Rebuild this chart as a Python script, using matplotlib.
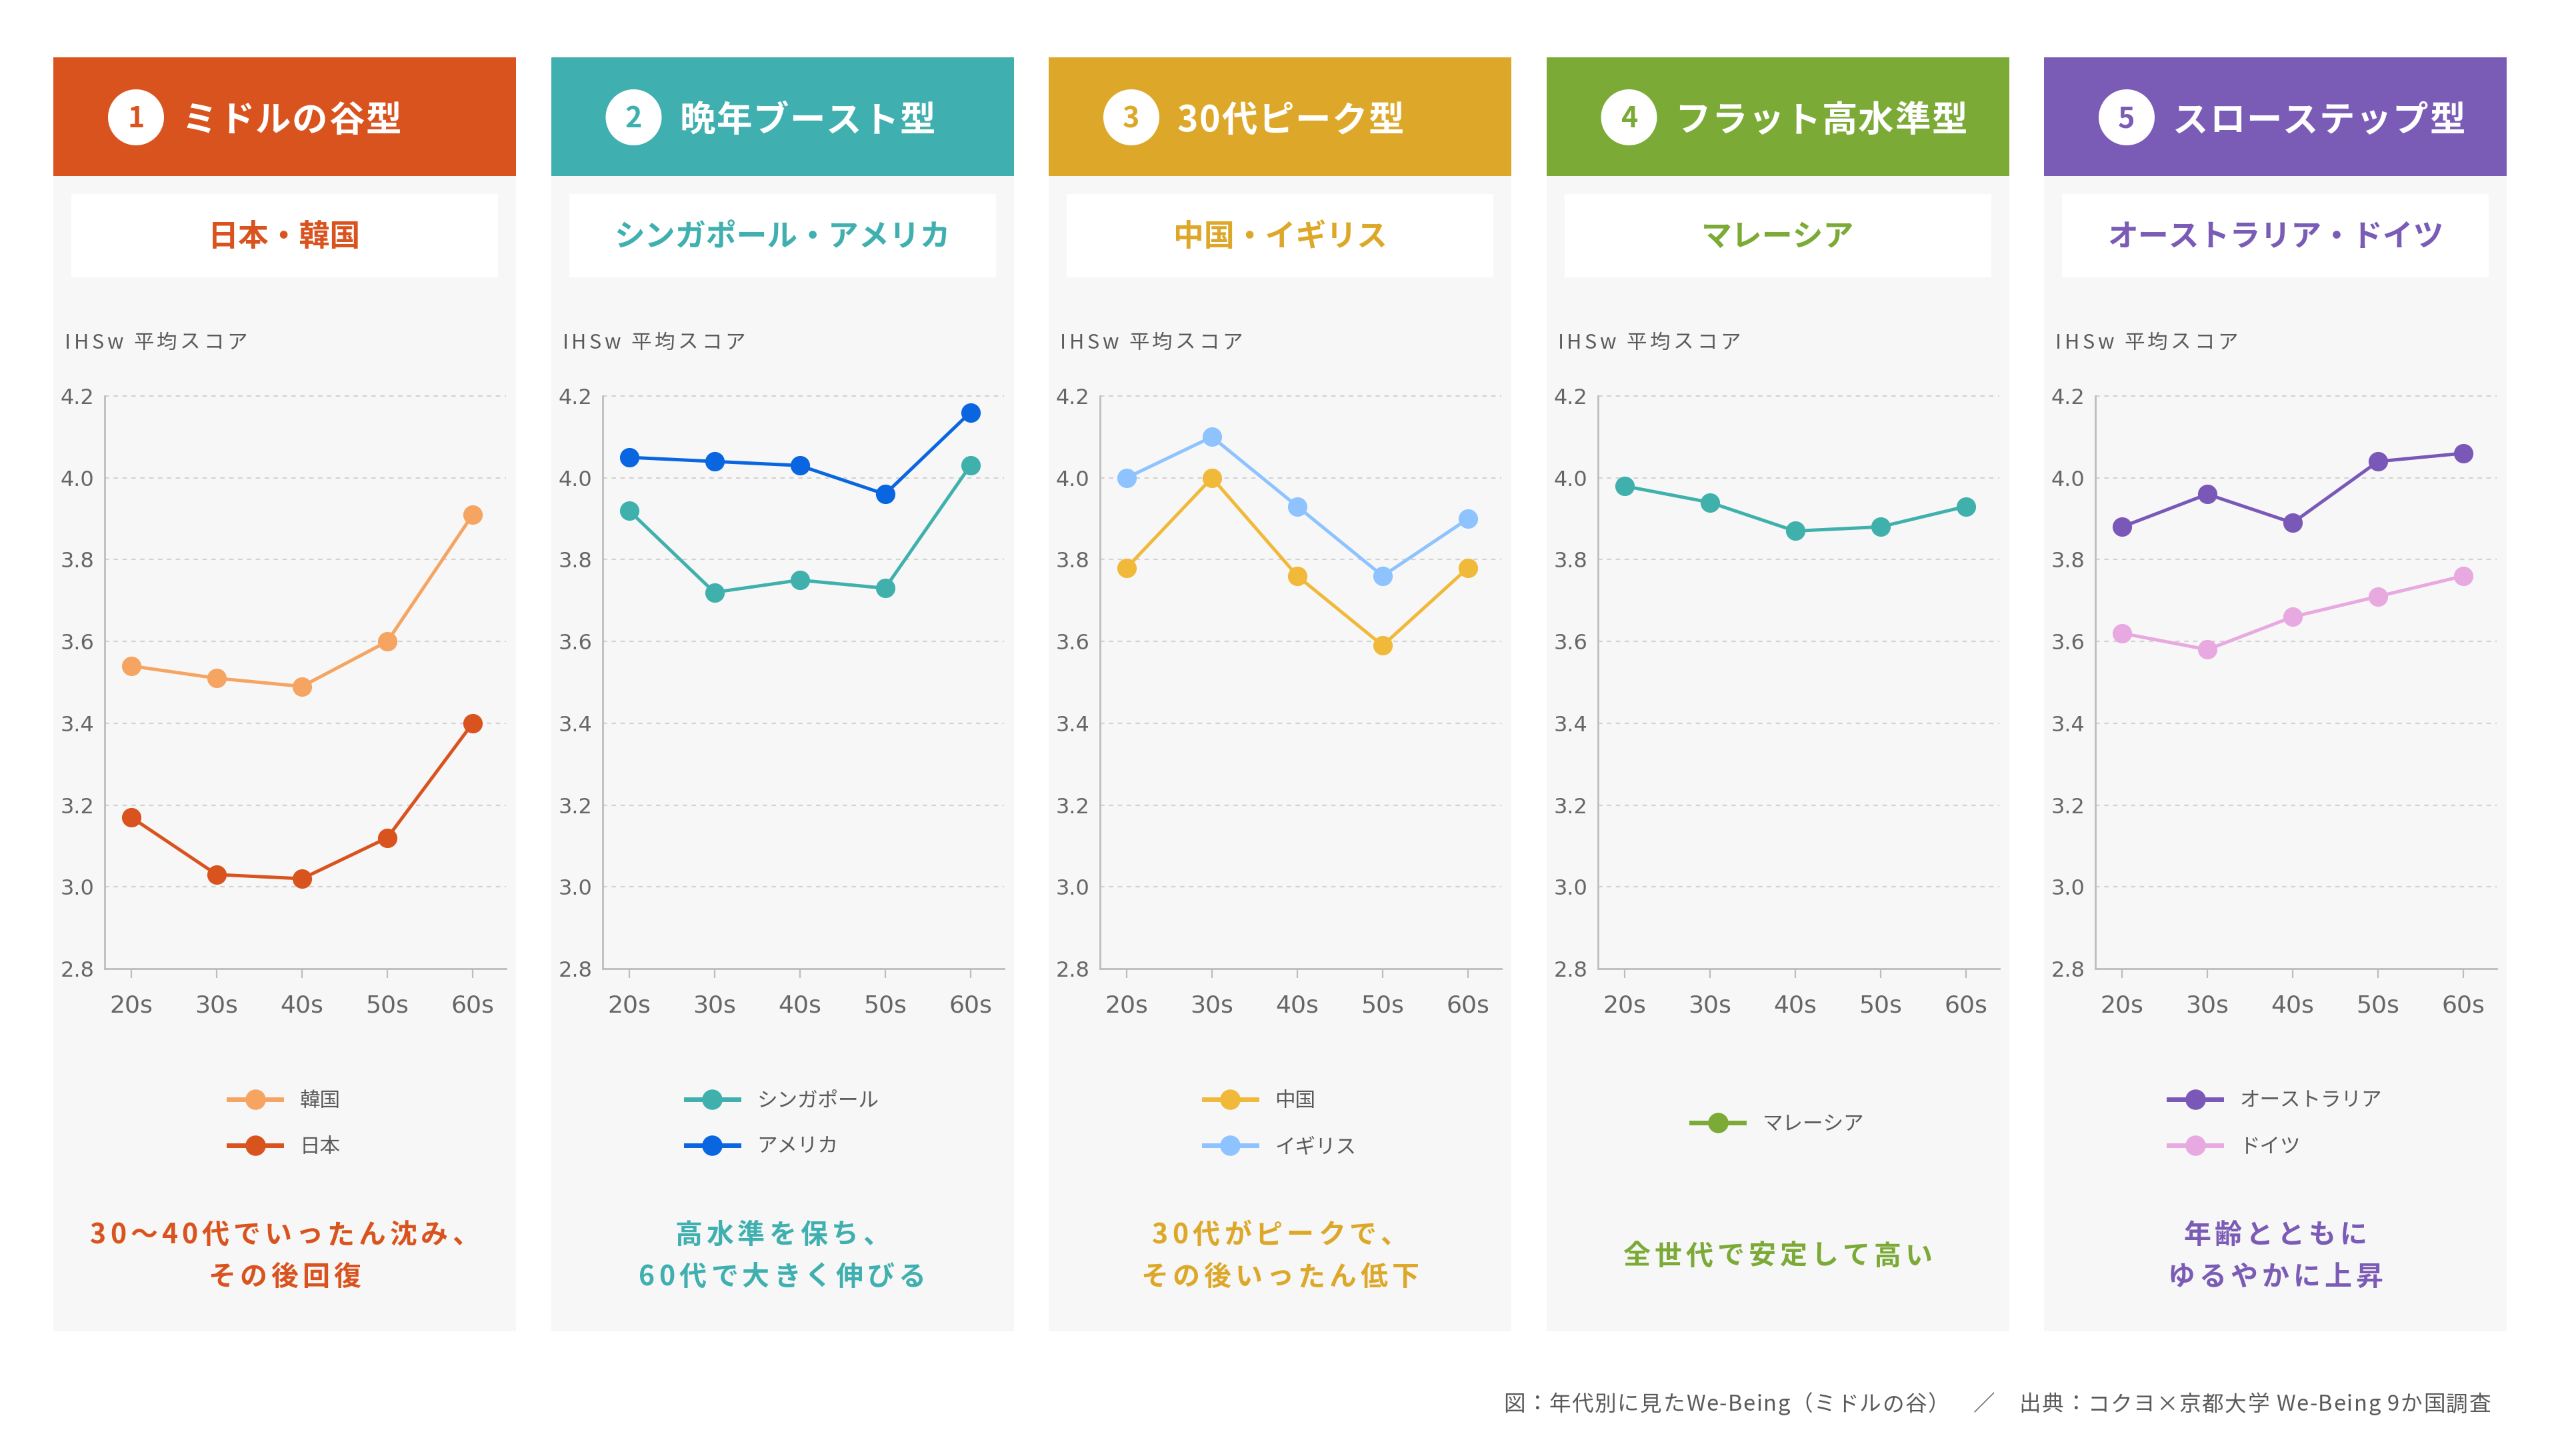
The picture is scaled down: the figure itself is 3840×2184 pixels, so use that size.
import matplotlib
matplotlib.use("Agg")
import matplotlib.pyplot as plt
from matplotlib.patches import Rectangle, Circle
from matplotlib.lines import Line2D
from matplotlib.font_manager import FontProperties, findfont, get_font

plt.rcParams['font.family'] = ['Noto Sans CJK JP', 'DejaVu Sans']

# ---------------- data ----------------
ages = ['20s', '30s', '40s', '50s', '60s']
yticks = [2.8, 3.0, 3.2, 3.4, 3.6, 3.8, 4.0, 4.2]

korea = [3.54, 3.51, 3.49, 3.60, 3.91]
japan = [3.17, 3.03, 3.02, 3.12, 3.40]
singapore = [3.92, 3.72, 3.75, 3.73, 4.03]
usa = [4.05, 4.04, 4.03, 3.96, 4.16]
china = [3.78, 4.00, 3.76, 3.59, 3.78]
uk = [4.00, 4.10, 3.93, 3.76, 3.90]
malaysia = [3.98, 3.94, 3.87, 3.88, 3.93]
australia = [3.88, 3.96, 3.89, 4.04, 4.06]
germany = [3.62, 3.58, 3.66, 3.71, 3.76]

titles = ['ミドルの谷型', '晩年ブースト型', '30代ピーク型', 'フラット高水準型', 'スローステップ型']
subtitles = ['日本・韓国', 'シンガポール・アメリカ', '中国・イギリス', 'マレーシア', 'オーストラリア・ドイツ']
descriptions = [['30〜40代でいったん沈み、', 'その後回復'],
                ['高水準を保ち、', '60代で大きく伸びる'],
                ['30代がピークで、', 'その後いったん低下'],
                ['全世代で安定して高い'],
                ['年齢とともに', 'ゆるやかに上昇']]
theme_colors = ['#D9531F', '#40AFB0', '#DDA829', '#7BAA37', '#7A5BB5']

# series per panel: (label, values, line color, legend color)
panels = [
    [('韓国', korea, '#F5A462', '#F5A462'), ('日本', japan, '#D9531F', '#D9531F')],
    [('シンガポール', singapore, '#40B0AD', '#40B0AD'), ('アメリカ', usa, '#0A66E0', '#0A66E0')],
    [('中国', china, '#F0B93A', '#F0B93A'), ('イギリス', uk, '#8EC3FF', '#8EC3FF')],
    [('マレーシア', malaysia, '#40B0AD', '#7BAA37')],
    [('オーストラリア', australia, '#7A58B8', '#7A58B8'), ('ドイツ', germany, '#E8A8E0', '#E8A8E0')],
]
ylabel = 'IHSw 平均スコア'
footer = '図：年代別に見たWe-Being（ミドルの谷）　／　出典：コクヨ×京都大学 We-Being 9か国調査'

# ---------------- layout ----------------
W, H = 3840, 2184
DPI = 100
fig = plt.figure(figsize=(W / DPI, H / DPI), dpi=DPI, facecolor='white')
bg = fig.add_axes([0, 0, 1, 1])
bg.set_xlim(0, W)
bg.set_ylim(H, 0)
bg.axis('off')


def tracked(s, x, yc, size, tracking, ha='center', weight='normal', color='k'):
    """Draw text with letter spacing in pixel coords of bg axes."""
    prop = FontProperties(family='Noto Sans CJK JP', weight=weight, size=size)
    font = get_font(findfont(prop))
    font.set_size(size, DPI)
    advs = [font.load_char(ord(ch)).linearHoriAdvance / 65536 for ch in s]
    total = sum(advs) + tracking * (len(s) - 1)
    if ha == 'center':
        pos = x - total / 2
    elif ha == 'right':
        pos = x - total
    else:
        pos = x
    em = size * DPI / 72
    yb = yc + 0.38 * em
    for ch, a in zip(s, advs):
        if ch not in ' \u3000':
            bg.text(pos, yb, ch, ha='left', va='baseline', color=color,
                    fontsize=size, fontweight=weight, family='Noto Sans CJK JP')
        pos += a + tracking


PW = 694
TOP, HEAD_B, BOT = 86, 264, 1997
AX_TOP, AX_BOT = 594, 1453
GRAY = '#5a5a5a'
TICKFONT = 'DejaVu Sans'

for i in range(5):
    L = 80 + i * 746.5
    col = theme_colors[i]
    bg.add_patch(Rectangle((L, TOP), PW, BOT - TOP, fc='#F7F7F7', ec='none'))
    bg.add_patch(Rectangle((L, TOP), PW, HEAD_B - TOP, fc=col, ec='none'))
    bg.add_patch(Circle((L + 124, 176), 42, fc='white', ec='none'))
    bg.text(L + 124, 178, str(i + 1), ha='center', va='center', color=col,
            fontsize=31, fontweight='bold')
    tracked(titles[i], L + 193, 177, 38.5, 1.5, ha='left', weight='bold', color='white')
    bg.add_patch(Rectangle((L + 27, 291), PW - 54, 125, fc='white', ec='none'))
    bg.text(L + PW / 2, 356, subtitles[i], ha='center', va='center', color=col,
            fontsize=33, fontweight='bold')
    tracked(ylabel, L + 17, 511, 22, 4.5, ha='left', color=GRAY)

    lines = descriptions[i]
    yc0 = 1881 - (len(lines) - 1) * 63 / 2
    for k, line in enumerate(lines):
        tracked(line, L + PW / 2, yc0 + k * 63, 29.5, 6, ha='center',
                weight='bold', color=col)

    ax = fig.add_axes([(L + 77) / W, 1 - AX_BOT / H, 602 / W, (AX_BOT - AX_TOP) / H])
    ax.patch.set_alpha(0)
    x = list(range(len(ages)))
    handles = []
    for label, vals, lc, legc in panels[i]:
        ax.plot(x, vals, color=lc, lw=3.6, marker='o', markersize=21,
                markeredgewidth=0, clip_on=False, zorder=3)
        handles.append(Line2D([0], [0], color=legc, lw=5, marker='o',
                              markersize=22, markeredgewidth=0, label=label))
    ax.set_xlim(-0.3125, 4.39)
    ax.set_ylim(2.8, 4.2)
    ax.set_xticks(x)
    ax.set_xticklabels(ages, family=TICKFONT)
    ax.set_yticks(yticks)
    ax.set_yticklabels([f'{v:.1f}' for v in yticks], family=TICKFONT)
    for s in ['top', 'right']:
        ax.spines[s].set_visible(False)
    for s in ['left', 'bottom']:
        ax.spines[s].set_color('#bdbdbd')
        ax.spines[s].set_linewidth(2)
    ax.tick_params(axis='y', length=0, pad=11, labelsize=23, labelcolor='#666666')
    ax.tick_params(axis='x', length=10, width=1.6, color='#bdbdbd', pad=18,
                   labelsize=26, labelcolor='#666666')
    ax.yaxis.grid(True, color='#d3d3d3', lw=1.6, ls=(0, (3, 3)))
    for gl in ax.get_ygridlines():
        gl.set_clip_on(False)
    ax.set_axisbelow(True)

    fig.legend(handles=handles, loc='center',
               bbox_to_anchor=((L + PW / 2) / W, 1 - 1686 / H),
               frameon=False, fontsize=22, handlelength=2.6, handletextpad=0.9,
               labelspacing=1.25, labelcolor=GRAY)

tracked(footer, 3736, 2104, 23.5, 1.6, ha='right', color=GRAY)

fig.savefig('out.png', dpi=DPI, facecolor='white')
